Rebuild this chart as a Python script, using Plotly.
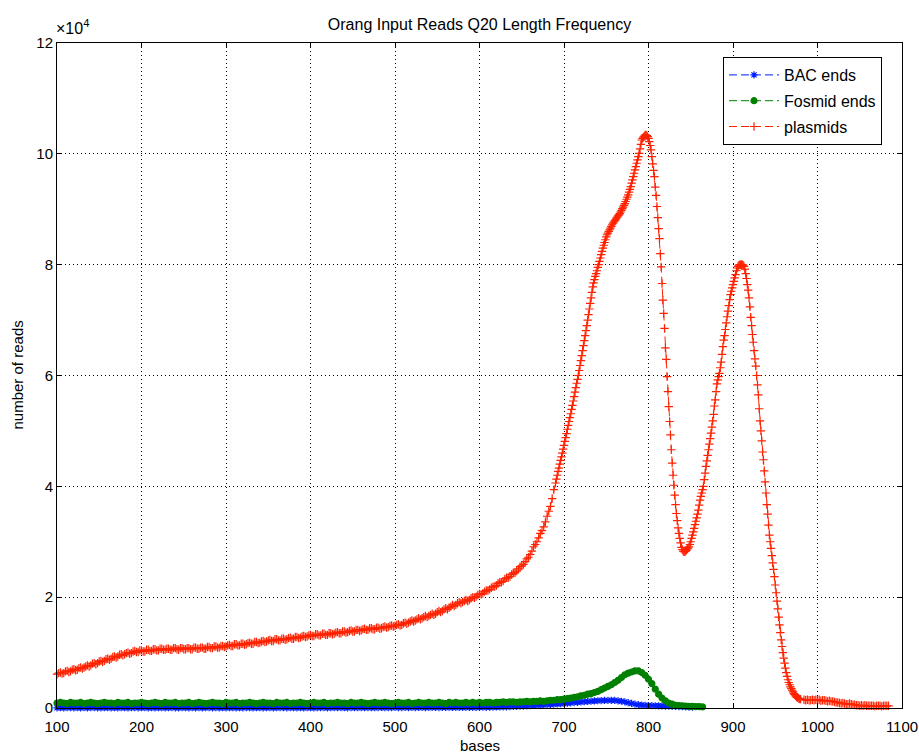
import plotly.graph_objects as go

# Q20 read-length histogram for three library types.
# Read counts are stored in hundreds of reads at each read length (bases).

plasmid_bases = list(range(100, 689, 2)) + list(range(690, 981)) + list(range(984, 1085, 2))
plasmid_x100 = [
    # 100 - 688, every 2 bases
    61, 63, 64, 62, 63, 66, 67, 65, 66, 69,
    70, 68, 69, 72, 73, 71, 73, 75, 77, 75,
    77, 80, 81, 79, 81, 84, 85, 83, 85, 88,
    89, 87, 89, 92, 93, 91, 93, 96, 97, 95,
    97, 99, 100, 98, 99, 102, 103, 101, 101, 104,
    104, 102, 102, 105, 105, 103, 103, 106, 106, 104,
    104, 107, 107, 105, 105, 107, 107, 105, 105, 108,
    108, 106, 105, 108, 108, 106, 106, 108, 108, 106,
    106, 109, 109, 107, 107, 109, 109, 107, 107, 110,
    110, 108, 108, 111, 111, 109, 109, 112, 112, 110,
    111, 113, 114, 112, 112, 115, 115, 113, 113, 116,
    116, 114, 115, 117, 118, 116, 116, 119, 119, 117,
    118, 120, 121, 119, 120, 122, 123, 121, 121, 124,
    124, 122, 122, 125, 125, 123, 124, 126, 127, 125,
    125, 128, 128, 126, 127, 129, 130, 128, 129, 131,
    132, 130, 130, 133, 133, 131, 131, 134, 134, 132,
    132, 135, 135, 133, 134, 136, 137, 135, 135, 138,
    138, 136, 137, 139, 140, 138, 138, 141, 141, 139,
    140, 142, 143, 141, 141, 144, 144, 142, 142, 145,
    145, 143, 144, 146, 147, 145, 146, 148, 149, 147,
    148, 150, 151, 149, 150, 153, 154, 152, 154, 156,
    158, 156, 158, 160, 162, 160, 162, 164, 166, 164,
    166, 168, 170, 168, 170, 173, 175, 173, 175, 178,
    180, 178, 181, 183, 186, 184, 186, 189, 191, 189,
    191, 193, 195, 193, 195, 198, 200, 199, 201, 204,
    206, 205, 207, 210, 212, 212, 214, 217, 219, 219,
    221, 225, 227, 227, 229, 233, 235, 235, 237, 241,
    244, 244, 247, 251, 255, 256, 259, 264, 269, 272,
    277, 283, 291, 295, 300, 307, 315, 320, 327, 336,
    346, 355, 364, 378, 394,
    # 690 - 980, one value per base
    406, 413, 420, 427, 433, 440, 447, 453, 460, 467,
    474, 481, 488, 495, 503, 510, 517, 524, 531, 539,
    546, 554, 562, 570, 578, 586, 593, 600, 609, 618,
    627, 636, 645, 654, 663, 672, 681, 690, 700, 710,
    720, 730, 740, 750, 760, 767, 773, 779, 784, 789,
    795, 800, 806, 812, 818, 824, 830, 835, 840, 845,
    850, 854, 857, 860, 863, 866, 869, 872, 875, 877,
    879, 881, 884, 886, 888, 890, 892, 895, 898, 901,
    904, 907, 910, 914, 918, 922, 926, 931, 936, 941,
    947, 953, 959, 965, 971, 977, 983, 989, 995, 1001,
    1009, 1017, 1025, 1028, 1030, 1032, 1034, 1034, 1033, 1031,
    1028, 1022, 1015, 1007, 995, 982, 970, 959, 940, 925,
    905, 885, 865, 847, 820, 796, 766, 736, 712, 685,
    650, 629, 598, 571, 544, 517, 493, 466, 442, 420,
    402, 384, 367, 351, 338, 325, 315, 306, 298, 290,
    286, 283, 282, 282, 283, 285, 287, 289, 291, 295,
    300, 306, 312, 318, 324, 331, 337, 343, 350, 357,
    366, 375, 382, 388, 394, 400, 412, 424, 436, 446,
    456, 466, 476, 486, 496, 507, 518, 530, 545, 556,
    571, 585, 592, 598, 604, 614, 624, 638, 652, 664,
    672, 683, 695, 706, 716, 726, 737, 746, 752, 758,
    764, 770, 776, 782, 789, 794, 797, 799, 800, 800,
    800, 800, 799, 797, 792, 784, 775, 764, 754, 740,
    724, 705, 690, 674, 660, 645, 630, 617, 600, 583,
    565, 540, 518, 500, 482, 462, 448, 428, 408, 388,
    367, 350, 330, 312, 300, 288, 275, 262, 250, 237,
    222, 208, 193, 179, 164, 150, 136, 123, 111, 100,
    90, 81, 72, 64, 57, 51, 46, 42, 38, 35,
    32, 29, 26, 24, 22, 20, 19, 18, 17, 16,
    16,
    # 984 - 1084, every 2 bases
    15, 14, 15, 14, 14, 15, 14, 15, 14, 15,
    13, 14, 14, 13, 12, 13, 12, 12, 11, 10,
    10, 9, 8, 9, 8, 7, 7, 8, 7, 6,
    6, 5, 5, 4, 5, 4, 5, 4, 4, 4,
    4, 4, 3, 4, 4, 4, 3, 4, 4, 4,
    4,
]

fosmid_bases = list(range(100, 865, 4))
fosmid_x100 = [
    9, 10, 9, 8, 10, 9, 9, 10, 8, 9,
    10, 9, 8, 9, 10, 9, 9, 8, 10, 9,
    9, 10, 8, 9, 9, 10, 9, 8, 9, 10,
    9, 8, 10, 9, 9, 10, 8, 9, 9, 10,
    8, 9, 10, 9, 8, 9, 10, 9, 9, 8,
    10, 9, 9, 10, 8, 9, 9, 10, 9, 8,
    9, 10, 9, 9, 8, 10, 9, 9, 10, 8,
    9, 9, 10, 9, 8, 9, 10, 9, 9, 10,
    8, 9, 9, 10, 9, 9, 8, 10, 9, 9,
    10, 9, 8, 9, 10, 9, 9, 10, 9, 8,
    9, 10, 9, 9, 10, 8, 9, 10, 9, 9,
    10, 9, 9, 10, 9, 8, 10, 9, 10, 9,
    9, 10, 9, 10, 9,
    10, 9, 10, 10, 9, 10, 10, 11, 10, 11,
    11, 10, 11, 11, 12, 11, 12, 12, 13, 12,
    13, 14, 14, 15, 15, 16, 17, 18, 19, 20,
    22, 23, 25, 26, 28, 30, 33, 36, 39, 42,
    46, 50, 55, 60, 63, 65, 67, 67, 64, 59,
    52, 44, 34, 25, 18, 13, 9, 7, 5, 4.5,
    4, 3.5, 3, 3, 2.5, 2.5, 2,
]

bac_bases = list(range(100, 853, 4))
bac_x100 = [
    0.4, 0.6, 0.3, 0.5, 0.7, 0.4, 0.5, 0.3, 0.6, 0.4,
    0.5, 0.7, 0.4, 0.3, 0.6, 0.5, 0.4, 0.6, 0.3, 0.5,
    0.6, 0.4, 0.5, 0.7, 0.3, 0.5, 0.6, 0.4, 0.5, 0.3,
    0.5, 0.6, 0.4, 0.5, 0.7, 0.4, 0.3, 0.6, 0.5, 0.4,
    0.6, 0.3, 0.5, 0.4, 0.6, 0.7, 0.4, 0.5, 0.3, 0.6,
    0.4, 0.5, 0.6, 0.3, 0.5, 0.4, 0.7, 0.5, 0.4, 0.6,
    0.5, 0.3, 0.6, 0.5, 0.4, 0.6, 0.5, 0.7, 0.4, 0.5,
    0.6, 0.4, 0.5, 0.3, 0.6, 0.5, 0.4, 0.6, 0.7, 0.5,
    0.4, 0.6, 0.5, 0.7, 0.5, 0.6, 0.4, 0.7, 0.6, 0.8,
    0.6, 0.7, 0.5, 0.8, 0.6, 0.7, 0.9, 0.6, 0.8, 0.7,
    0.9, 0.7, 0.8, 1.0, 0.8, 0.9, 0.7, 1.0, 0.9, 0.8,
    1.0, 0.9, 1.1, 0.8, 1.0, 1.1, 0.9, 1.2, 1.0, 1.1,
    1.0, 1.2, 1.1, 1.0, 1.2,
    1.2, 1.4, 1.3, 1.6, 1.5, 1.8, 1.9, 2.1, 2.2, 2.5,
    2.7, 3.0, 3.2, 3.5, 3.8, 4.1, 4.5, 4.8, 5.2, 5.6,
    6.0, 6.4, 6.9, 7.3, 7.8, 8.2, 8.7, 9.2, 9.8, 10.3,
    10.8, 11.3, 11.8, 12.3, 12.7, 13.1, 13.4, 13.6, 13.8, 13.9,
    13.6, 13.0, 12.2, 11.0, 9.6, 8.2, 7.0, 6.0, 5.3, 4.8,
    4.5, 4.3, 4.1, 3.9, 3.7, 3.5, 3.3, 3.1, 2.9, 2.6,
    2.3, 2.0, 1.7, 1.4,
]

x_tick_vals = [100, 200, 300, 400, 500, 600, 700, 800, 900, 1000, 1100]
y_tick_vals = [0, 20000, 40000, 60000, 80000, 100000, 120000]
y_tick_text = ["0", "2", "4", "6", "8", "10", "12"]

FONT = "Liberation Sans, Arial, Helvetica, sans-serif"
BLUE = "rgb(0,30,255)"
GREEN = "rgb(0,128,0)"
RED = "rgb(255,34,0)"
DASH = "8px,4px"


def counts(values):
    return [v * 100 for v in values]


fig = go.Figure()
series = [
    ("BAC ends", bac_bases, bac_x100, BLUE, "asterisk-open", 6),
    ("Fosmid ends", fosmid_bases, fosmid_x100, GREEN, "circle", 6),
    ("plasmids", plasmid_bases, plasmid_x100, RED, "cross-thin-open", 6),
]
for name, xs, ys, color, symbol, size in series:
    fig.add_trace(go.Scatter(
        x=xs, y=counts(ys), name=name, mode="lines+markers",
        legendgroup=name,
        line=dict(color=color, width=1, dash=DASH),
        marker=dict(symbol=symbol, size=size, color=color,
                    line=dict(color=color, width=1.2)),
        cliponaxis=False,
    ))

axis_common = dict(
    automargin=False,
    showline=True, linecolor="black", linewidth=1, mirror="ticks",
    ticks="inside", ticklen=5, tickwidth=1, tickcolor="black",
    showgrid=True, gridcolor="black", gridwidth=1, griddash="1px,3px",
    zeroline=False, tickfont=dict(family=FONT, size=15, color="black"),
)

fig.update_layout(
    width=919, height=754,
    margin=dict(l=57, r=17, t=43, b=46, autoexpand=False),
    paper_bgcolor="white", plot_bgcolor="white",
    font=dict(family=FONT, color="black"),
    title=dict(text="Orang Input Reads Q20 Length Frequency",
               x=0.5, xref="paper", xanchor="center",
               y=1 - 24.5 / 754, yref="container", yanchor="middle",
               font=dict(family=FONT, size=16, color="black")),
    xaxis=dict(range=[100, 1100], tickvals=x_tick_vals, ticklabelstandoff=5,
               **axis_common),
    yaxis=dict(range=[0, 120000], tickvals=y_tick_vals, ticktext=y_tick_text,
               **axis_common),
    legend=dict(x=(723 - 57) / 845, y=(708 - 57) / 665, xanchor="left", yanchor="top",
                bgcolor="white", bordercolor="black", borderwidth=1,
                font=dict(family=FONT, size=16, color="black"),
                tracegroupgap=2, itemwidth=50),
    showlegend=True,
    annotations=[
        dict(text="×10<sup>4</sup>", xref="paper", yref="paper",
             x=-0.003, y=1.006, xanchor="left", yanchor="bottom",
             showarrow=False, font=dict(family=FONT, size=16, color="black")),
        dict(text="bases", xref="paper", yref="paper",
             x=0.5, y=-37 / 665, xanchor="center", yanchor="middle",
             showarrow=False, font=dict(family=FONT, size=15, color="black")),
        dict(text="number of reads", xref="paper", yref="paper",
             x=-40 / 845, y=0.5, xanchor="center", yanchor="middle", textangle=-90,
             showarrow=False, font=dict(family=FONT, size=15, color="black")),
    ],
)

fig.write_html("out.html")
